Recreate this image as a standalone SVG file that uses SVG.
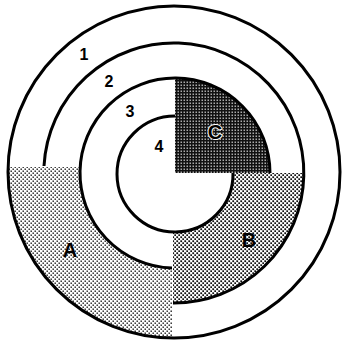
<svg xmlns="http://www.w3.org/2000/svg" width="343" height="343" viewBox="0 0 343 343">
<style>
.ring{fill:none;stroke:#000;stroke-width:3;stroke-linecap:butt}
.num{font-family:"Liberation Sans",Arial,sans-serif;font-weight:bold;font-size:16px;fill:#000;text-anchor:middle}
.let{font-family:"Liberation Sans",Arial,sans-serif;font-weight:bold;font-size:20px;fill:#000;text-anchor:middle}
</style>
<defs>
<pattern id="pA" patternUnits="userSpaceOnUse" width="4" height="4">
<rect width="4" height="4" fill="#fff"/>
<rect x="0.5" y="0.5" width="1.4" height="1.4" fill="#111"/>
<rect x="2.5" y="2.5" width="1.4" height="1.4" fill="#111"/>
</pattern>
<pattern id="pB" patternUnits="userSpaceOnUse" width="4" height="4">
<rect width="4" height="4" fill="#fff"/>
<rect x="0.3" y="0.3" width="1.8" height="1.8" fill="#111"/>
<rect x="2.3" y="2.3" width="1.8" height="1.8" fill="#111"/>
</pattern>
<pattern id="pC" patternUnits="userSpaceOnUse" width="3" height="3">
<rect width="3" height="3" fill="#111"/>
<rect x="0.6" y="0.6" width="1.2" height="1.2" fill="#fff"/>
</pattern>
</defs>
<rect width="343" height="343" fill="#fff"/>
<g id="A">
<path d="M 8,167 L 80,167 A 95 95 0 0 0 172,268 L 172,338 A 166 166 0 0 1 8,167 Z" fill="url(#pA)"/>
<text class="let" x="70" y="257">A</text>
</g>
<g id="B">
<path d="M 233,173 L 304,173 A 130 130 0 0 1 173,303 L 173,232 A 58 58 0 0 0 233,173 Z" fill="url(#pB)"/>
<text class="let" x="249" y="247">B</text>
</g>
<g id="C">
<path d="M 175,173 L 175,78 A 95 95 0 0 1 270,173 Z" fill="url(#pC)"/>
<text class="let" x="215" y="139" stroke="#fff" stroke-width="2" paint-order="stroke">C</text>
</g>
<g id="connectors">
<circle class="ring" cx="174" cy="172" r="166"/>
<path class="ring" d="M 44,166 A 130 130 0 1 1 173,303"/>
<path class="ring" d="M 172,268 A 95 95 0 1 1 270,173"/>
<path class="ring" d="M 175,116 A 58 58 0 1 0 233,173"/>
</g>
<g id="labels">
<text class="num" x="84" y="60">1</text>
<text class="num" x="109" y="87">2</text>
<text class="num" x="130" y="117">3</text>
<text class="num" x="159" y="152">4</text>
</g>
</svg>
